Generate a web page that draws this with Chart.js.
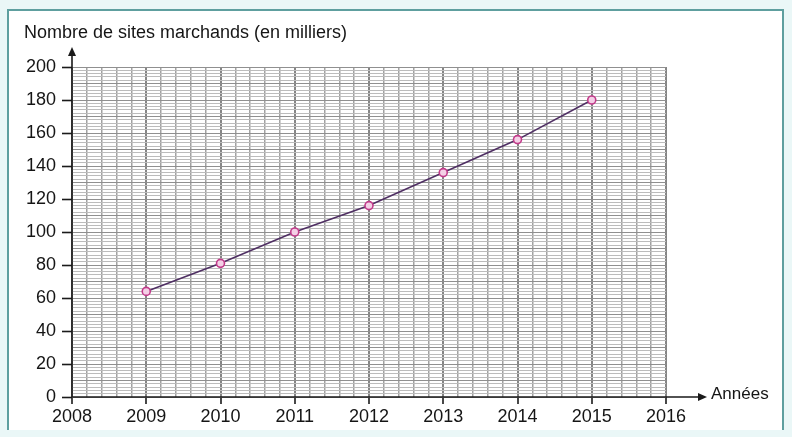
<!DOCTYPE html>
<html>
<head>
<meta charset="utf-8">
<script src="https://cdn.jsdelivr.net/npm/chart.js@4"></script>
<style>
  html, body { margin: 0; padding: 0; background: #eaf7f7; }
  #wrap { position: relative; width: 792px; height: 437px; }
  canvas { display: block; }
</style>
</head>
<body>
<div id="wrap"><canvas id="c" width="792" height="437"></canvas></div>
<script>
const years = [2009, 2010, 2011, 2012, 2013, 2014, 2015];
const sites = [64, 81, 100, 116, 136, 156, 180];
const yTitle = "Nombre de sites marchands (en milliers)";
const xTitle = "Années";
const xMin = 2008, xMax = 2016, xStep = 0.2;
const yMin = 0, yMax = 200, yStep = 2, yLabelStep = 20;

const points = years.map((y, i) => ({ x: y, y: sites[i] }));
const isInt = v => Math.abs(v - Math.round(v)) < 1e-6;
const isMult = (v, m) => Math.abs(v / m - Math.round(v / m)) < 1e-6;
const FONT = '"Liberation Sans", Arial, sans-serif';

const framePlugin = {
  id: 'frame',
  beforeDraw(chart) {
    const ctx = chart.ctx;
    ctx.save();
    ctx.fillStyle = '#eaf7f7';
    ctx.fillRect(0, 0, chart.width, chart.height);
    ctx.fillStyle = '#ffffff';
    ctx.fillRect(8, 10, 775, 420);
    ctx.strokeStyle = '#5e9f9f';
    ctx.lineWidth = 2;
    ctx.beginPath();
    ctx.moveTo(8, 430); ctx.lineTo(8, 10); ctx.lineTo(783, 10); ctx.lineTo(783, 430);
    ctx.stroke();
    ctx.restore();
  },
  afterDraw(chart) {
    const ctx = chart.ctx;
    const xs = chart.scales.x, ys = chart.scales.y;
    const x0 = xs.getPixelForValue(xMin), y0 = ys.getPixelForValue(yMin);
    const xEnd = xs.getPixelForValue(xMax) + 41;
    const yEnd = ys.getPixelForValue(yMax) - 20;
    ctx.save();
    ctx.strokeStyle = '#1a1a1a';
    ctx.fillStyle = '#1a1a1a';
    ctx.lineWidth = 1.6;
    ctx.beginPath();
    ctx.moveTo(x0, y0); ctx.lineTo(xEnd - 6, y0);
    ctx.moveTo(x0, y0); ctx.lineTo(x0, yEnd + 6);
    ctx.stroke();
    ctx.beginPath();
    ctx.moveTo(xEnd, y0); ctx.lineTo(xEnd - 9, y0 - 4); ctx.lineTo(xEnd - 9, y0 + 4); ctx.closePath();
    ctx.fill();
    ctx.beginPath();
    ctx.moveTo(x0, yEnd); ctx.lineTo(x0 - 4, yEnd + 9); ctx.lineTo(x0 + 4, yEnd + 9); ctx.closePath();
    ctx.fill();
    ctx.fillStyle = '#151515';
    ctx.textBaseline = 'middle';
    ctx.textAlign = 'left';
    ctx.font = '17px ' + FONT;
    ctx.fillText(xTitle, xEnd + 4, y0 - 3);
    ctx.font = '18px ' + FONT;
    ctx.fillText(yTitle, 24, 33);
    ctx.restore();
  }
};

new Chart(document.getElementById('c'), {
  type: 'line',
  data: {
    datasets: [{
      data: points,
      borderColor: '#4f2f63',
      borderWidth: 1.6,
      pointRadius: 4,
      pointBorderWidth: 1.6,
      pointBorderColor: '#c23a8a',
      pointBackgroundColor: '#f4d0e6',
      tension: 0
    }]
  },
  options: {
    responsive: false,
    animation: false,
    devicePixelRatio: 1,
    layout: { padding: { left: 0, right: 126, top: 67, bottom: 0 } },
    plugins: { legend: { display: false }, tooltip: { enabled: false } },
    scales: {
      x: {
        type: 'linear',
        min: xMin, max: xMax,
        afterFit(s) { s.height = 40; },
        ticks: {
          stepSize: xStep, autoSkip: false, maxRotation: 0, padding: 2,
          color: '#151515',
          font: { family: FONT, size: 18 },
          callback: v => isInt(v) ? String(Math.round(v)) : ''
        },
        grid: {
          color: c => isInt(c.tick.value) ? '#858585' : '#a2a2a2',
          lineWidth: c => isInt(c.tick.value) ? 2 : 1.5,
          tickLength: 7,
          tickColor: c => isInt(c.tick.value) ? '#1a1a1a' : 'rgba(0,0,0,0)',
          tickWidth: 1.6
        },
        border: { display: false }
      },
      y: {
        type: 'linear',
        min: yMin, max: yMax,
        afterFit(s) { s.width = 72; },
        ticks: {
          stepSize: yStep, autoSkip: false, padding: 6,
          color: '#151515',
          font: { family: FONT, size: 18 },
          callback: v => isMult(v, yLabelStep) ? String(Math.round(v)) : ''
        },
        grid: {
          color: c => isMult(c.tick.value, 10) ? '#909090' : '#bcbcbc',
          lineWidth: 1,
          tickLength: 10,
          tickColor: c => isMult(c.tick.value, yLabelStep) ? '#1a1a1a' : 'rgba(0,0,0,0)',
          tickWidth: 1.6
        },
        border: { display: false }
      }
    }
  },
  plugins: [framePlugin]
});
</script>
</body>
</html>
